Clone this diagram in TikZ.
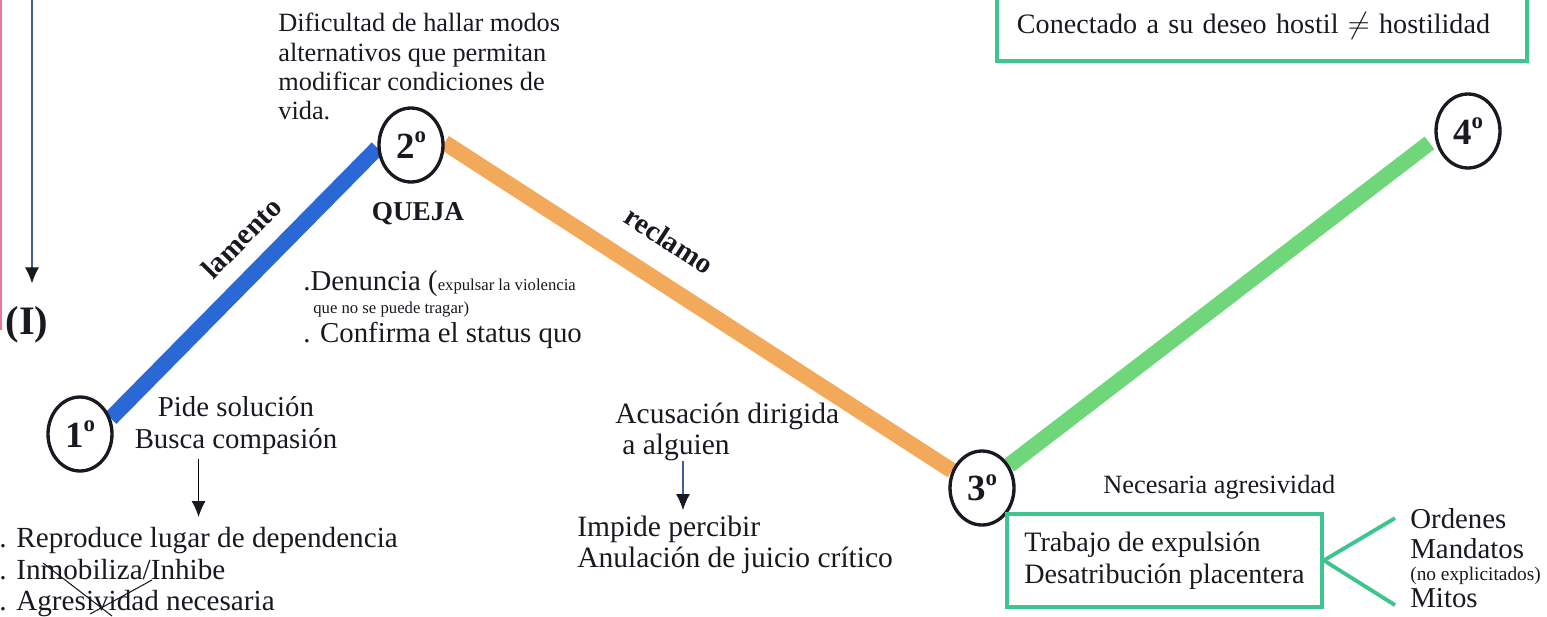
\documentclass[tikz,border=0pt]{standalone}
\usepackage{fontspec}
\setmainfont{Liberation Serif}
\usetikzlibrary{shapes.geometric,positioning,arrows.meta,backgrounds}
\definecolor{barblue}{RGB}{42,104,214}
\definecolor{barorange}{RGB}{242,170,90}
\definecolor{bargreen}{RGB}{112,214,122}
\definecolor{boxgreen}{RGB}{62,196,142}
\definecolor{inkblack}{RGB}{26,24,32}
\definecolor{arrowblue}{RGB}{70,90,150}
\definecolor{edgepink}{RGB}{236,120,150}

\newcommand{\ordinal}[1]{#1\raisebox{0.42em}{\fontsize{13}{13}\selectfont o}}

\begin{document}
\begin{tikzpicture}[
    x=0.02cm, y=-0.02cm,
    stage/.style={ellipse, draw=inkblack, line width=1.9pt, fill=white, minimum width=1.28cm, minimum height=1.48cm, inner sep=0pt, text=inkblack, font=\fontsize{21}{24}\selectfont\bfseries},
    txt/.style={inner sep=0pt, text=inkblack, font=\fontsize{16.4}{17}\selectfont},
    note/.style={inner sep=0pt, text=inkblack, font=\fontsize{9.5}{11}\selectfont},
    bar/.style={line width=9pt},
    barlabel/.style={inner sep=0pt, text=inkblack, sloped, font=\fontsize{16.5}{18}\selectfont\bfseries},
    arrow/.style={-{Latex[length=0.32cm, width=0.28cm, color=inkblack]}, line width=0.6pt},
    gbox/.style={draw=boxgreen, line width=2.2pt, text=inkblack, font=\fontsize{16}{18}\selectfont},
    gline/.style={boxgreen, line width=2.2pt},
    node distance=0.36cm
]
\useasboundingbox (0,0) rectangle (1547,616);
\clip (0,0) rectangle (1547,616);

\draw[edgepink, line width=1.5pt] (1,0) -- (1,330);

\node[stage] (c1) at (80,434) {\ordinal{1}};
\node[stage] (c2) at (411,145) {\ordinal{2}};
\node[stage] (c3) at (982,488) {\ordinal{3}};
\node[stage] (c4) at (1468,131) {\ordinal{4}};

\begin{scope}[on background layer]
\draw[bar, barblue] (c1.27) -- node[barlabel, pos=0.58, above=0.32cm] {lamento} (c2.185);
\draw[bar, barorange] (c2.4) -- node[barlabel, pos=0.40, above=0.44cm] {reclamo} (c3.150);
\draw[bar, bargreen, shorten >=0.14cm] (c3.40) -- (c4.193);
\end{scope}

\node[txt, below=of c2, xshift=0.14cm, font=\fontsize{15.5}{17}\selectfont\bfseries] (queja) {QUEJA};

\node[txt, anchor=north west, align=left, font=\fontsize{15}{16.7}\selectfont] (dific) at (278,13) {Dificultad de hallar modos\\alternativos que permitan\\modificar condiciones de\\vida.};

\node[txt, anchor=base west] (denun) at (303,290) {.Denuncia ({\fontsize{9.5}{11}\selectfont expulsar la violencia}};
\node[note, anchor=base west] (tragar) at (313,313) {que no se puede tragar)};
\node[txt, anchor=base west] (status) at (303,342) {. Confirma el status quo};

\coordinate (topin) at (32,0);
\node[txt, font=\fontsize{23}{26}\selectfont\bfseries] (roman) at (27,325) {(I)};
\draw[arrow, draw=arrowblue, shorten >=0.46cm] (topin) -- (topin |- roman.north);

\node[txt, align=center, anchor=north, font=\fontsize{16.4}{18}\selectfont] (pide) at (236,396) {Pide solución\\Busca compasión};
\node[txt, align=left, anchor=north west, font=\fontsize{16.6}{17.9}\selectfont] (reprod) at (-1,527) {. Reproduce lugar de dependencia\\. Inmobiliza/Inhibe\\. Agresividad necesaria};
\draw[arrow, shorten <=0.08cm, shorten >=0.2cm] (pide.south -| reprod.north) -- (reprod.north);
\draw[inkblack, line width=0.6pt] (43,563) -- (112,616);
\draw[inkblack, line width=0.6pt] (152,580) -- (90,614);

\node[txt, align=left, anchor=north west, font=\fontsize{16.8}{17.2}\selectfont] (acus) at (615,403) {Acusación dirigida\\\hspace*{0.14cm}a alguien};
\node[txt, align=left, anchor=north west, font=\fontsize{16.8}{17.2}\selectfont] (imp) at (577,516) {Impide percibir\\Anulación de juicio crítico};
\coordinate (acusfoot) at ([xshift=1.36cm]acus.south west);
\draw[arrow, draw=arrowblue, shorten >=0.12cm] (acusfoot) -- (acusfoot |- imp.north);

\node[txt, anchor=base west, font=\fontsize{15}{17}\selectfont] (neces) at (1103,493) {Necesaria agresividad};
\node[gbox, anchor=north west, align=left, minimum width=6.3cm, minimum height=1.86cm] (trab) at (1005,512) {Trabajo de expulsión\\Desatribución placentera};

\node[txt, anchor=base west] (orden) at (1410,528) {Ordenes};
\node[txt, anchor=base west] (mand) at (1410,558) {Mandatos};
\node[note, anchor=base west, font=\fontsize{11}{12}\selectfont] (noexp) at (1410,580) {(no explicitados)};
\node[txt, anchor=base west] (mitos) at (1410,607) {Mitos};
\draw[gline] (trab.east) -- ([xshift=-0.3cm]orden.west);
\draw[gline] (trab.east) -- ([xshift=-0.3cm, yshift=-0.15cm]mitos.west);

\node[gbox, anchor=south west, align=left, text width=9.8cm, inner xsep=0.4cm, inner ysep=0.56cm, text height=2cm, text depth=0pt] (hostil) at (995,63) {Conectado a su deseo hostil $\neq$ hostilidad};

\end{tikzpicture}
\end{document}
